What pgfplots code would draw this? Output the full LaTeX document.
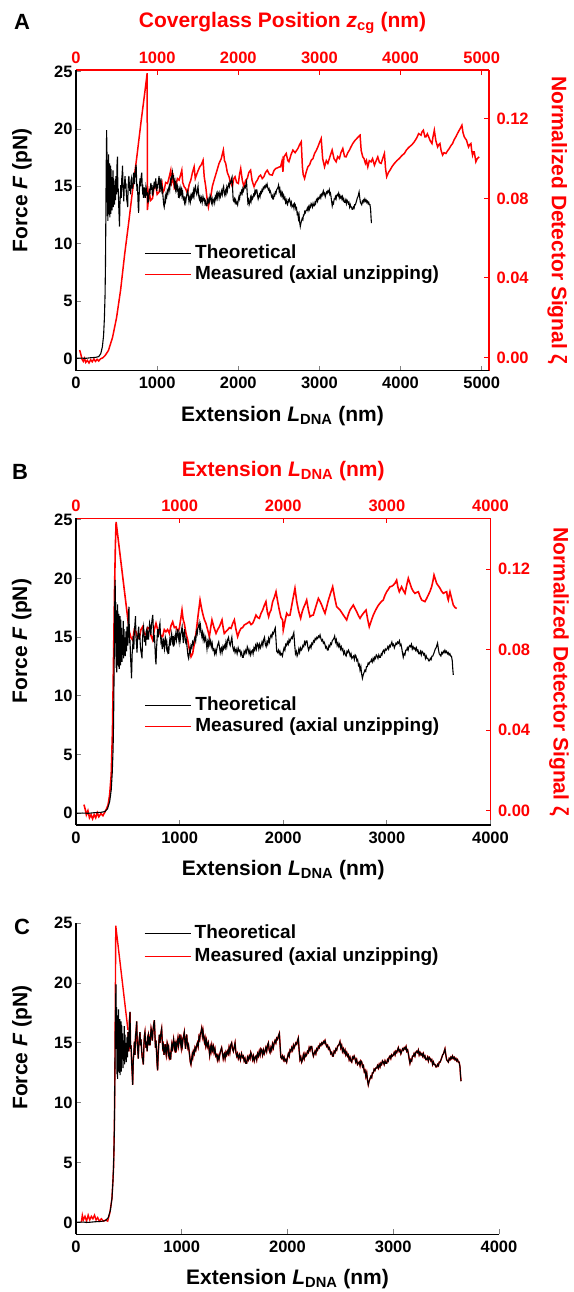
\documentclass[border=0pt]{standalone}
\usepackage{fontspec}
\setmainfont{Liberation Sans}
\usepackage{pgfplots}
\usepackage{pgfplotstable}
\pgfplotsset{compat=1.18}

\newcommand{\tickfont}{\fontsize{16.5}{18}\selectfont\bfseries}
\newcommand{\labfont}{\fontsize{21}{24}\selectfont\bfseries}
\newcommand{\legfont}{\fontsize{19}{22}\selectfont\bfseries}

% Theoretical force vs extension (nm, pN)
\pgfplotstableread{
L F
0 0.00
60 0.02
120 0.00
180 0.05
240 0.08
280 0.15
305 0.4
325 1.0
340 2.0
350 3.5
358 5.5
363 8.0
367 11.5
371 15.5
375 18.5
378 19.9
381 14.5
384 18.0
387 12.4
390 17.3
393 12.0
396 16.8
399 12.6
402 17.8
405 13.4
408 16.3
411 12.5
414 17.0
417 12.3
420 16.2
423 13.3
426 16.8
429 12.6
432 16.5
436 13.8
440 15.8
444 12.9
448 15.2
452 13.5
456 16.4
460 13.2
463 15.7
467 13.6
471 15.0
475 13.4
479 14.6
483 15.5
487 13.8
491 15.9
495 15.2
500 14.3
505 16.8
511 17.6
516 14.5
521 14.8
526 13.4
531 12.5
536 11.5
542 13.6
547 14.2
552 15.1
558 14.0
563 15.6
568 16.0
574 16.8
579 15.0
584 14.4
589 13.7
594 14.9
599 15.4
605 15.9
610 14.8
615 15.3
621 14.3
626 13.8
631 13.6
637 13.2
642 14.8
647 15.6
652 15.9
657 15.2
662 14.6
668 15.1
673 14.3
678 15.5
684 15.7
689 14.8
694 15.2
700 14.8
705 15.6
710 16.2
716 15.9
722 15.2
728 16.0
734 16.5
741 16.9
746 15.8
751 14.6
757 15.2
762 14.2
767 13.2
772 12.7
777 14.0
782 14.8
788 15.7
794 15.0
800 15.6
806 16.0
810 16.2
815 15.3
820 14.6
826 14.8
832 14.0
838 14.5
843 14.9
848 14.3
853 14.0
858 14.6
862 15.0
867 14.8
872 14.2
877 14.5
883 13.8
889 14.0
895 13.6
900 14.4
905 14.8
911 14.3
917 14.9
923 15.3
930 14.7
936 15.1
941 14.2
947 14.9
952 14.6
958 15.0
964 15.4
970 14.8
976 15.2
983 15.7
989 15.0
995 14.6
1000 15.2
1006 14.8
1012 15.3
1018 15.6
1024 15.9
1030 15.1
1036 14.5
1041 15.3
1047 15.7
1053 14.9
1058 14.6
1064 14.8
1069 14.4
1075 13.9
1081 13.4
1087 13.2
1093 13.6
1099 14.0
1104 13.8
1110 14.3
1118 14.1
1125 14.6
1133 14.4
1141 14.8
1148 15.0
1155 14.7
1163 15.5
1170 15.3
1176 15.8
1182 15.9
1188 16.2
1195 15.6
1201 16.0
1207 15.5
1214 15.1
1220 15.4
1227 14.8
1234 15.2
1242 14.7
1251 15.0
1258 14.5
1264 14.0
1271 14.6
1277 14.3
1284 14.8
1291 14.4
1299 14.7
1306 14.2
1314 14.5
1322 13.9
1330 14.0
1337 13.6
1344 13.9
1352 13.6
1359 14.0
1366 14.3
1377 14.6
1384 14.2
1392 13.7
1398 14.0
1403 14.1
1410 13.7
1418 14.2
1425 14.0
1432 14.3
1440 14.1
1447 14.6
1455 14.2
1463 14.8
1472 15.0
1480 14.5
1488 14.3
1497 14.7
1504 15.0
1512 14.2
1520 13.9
1527 14.1
1535 13.7
1545 14.0
1555 13.6
1565 14.1
1574 13.8
1582 13.9
1590 13.5
1598 13.7
1606 13.3
1614 13.3
1622 13.8
1630 13.6
1638 13.9
1646 13.7
1653 14.2
1661 14.0
1670 13.6
1678 13.9
1686 13.5
1694 13.8
1702 13.9
1709 13.6
1717 14.1
1725 13.9
1733 14.3
1741 14.0
1749 14.5
1756 14.4
1764 14.0
1772 14.4
1780 14.1
1787 14.3
1795 14.6
1803 14.3
1811 14.8
1819 15.0
1827 14.4
1835 14.2
1843 14.6
1850 14.4
1858 14.9
1866 14.6
1874 15.0
1882 15.2
1890 15.0
1898 15.4
1906 15.3
1915 15.6
1923 15.8
1930 14.8
1937 13.8
1945 13.7
1953 13.9
1961 13.6
1968 13.8
1976 13.5
1984 13.6
1992 13.4
2000 13.8
2008 14.1
2016 13.9
2024 14.4
2032 14.3
2040 14.6
2048 14.4
2056 14.8
2063 14.6
2071 14.8
2079 15.0
2087 14.9
2095 15.2
2102 15.4
2110 14.4
2118 13.6
2126 13.8
2134 13.4
2142 13.6
2150 14.0
2158 13.7
2166 14.1
2174 13.9
2181 14.0
2189 14.3
2197 14.2
2205 14.6
2213 14.4
2221 14.7
2229 14.7
2237 14.2
2245 13.9
2252 14.1
2260 14.3
2268 14.1
2276 14.5
2284 14.4
2292 14.7
2300 14.6
2308 14.9
2316 14.8
2324 15.0
2332 14.9
2340 15.1
2347 15.0
2355 15.2
2363 14.9
2371 14.7
2379 14.8
2387 14.5
2394 14.6
2402 14.4
2410 14.1
2418 14.2
2426 13.9
2433 13.9
2441 14.3
2449 14.2
2457 14.5
2465 14.4
2473 14.7
2481 14.8
2489 14.9
2496 15.1
2504 14.6
2512 14.8
2520 14.3
2528 14.5
2536 14.2
2544 14.4
2552 14.0
2560 14.2
2568 13.9
2575 14.0
2583 13.6
2591 13.8
2599 13.5
2607 13.4
2615 13.8
2622 13.7
2630 13.9
2638 13.7
2646 13.4
2654 13.6
2662 13.2
2670 13.3
2678 13.4
2686 13.1
2694 13.5
2702 13.4
2710 13.0
2718 13.1
2726 12.6
2733 12.7
2741 12.2
2749 12.5
2756 11.9
2764 11.5
2772 11.8
2780 12.0
2788 12.2
2796 12.1
2803 12.5
2811 12.5
2819 12.8
2827 12.7
2835 12.9
2843 12.9
2851 13.1
2859 12.9
2867 13.2
2875 13.0
2883 13.3
2890 13.2
2898 13.5
2906 13.4
2914 13.2
2922 13.5
2930 13.3
2938 13.3
2946 13.6
2953 13.5
2961 13.8
2969 13.9
2977 13.7
2985 14.0
2993 13.9
3001 14.0
3009 14.2
3017 14.0
3025 14.3
3033 14.2
3040 14.4
3048 14.6
3056 14.3
3064 14.4
3072 14.1
3080 14.3
3088 14.5
3096 14.4
3104 14.6
3112 14.5
3121 14.7
3128 14.3
3136 14.4
3143 14.1
3150 13.7
3158 13.3
3166 13.6
3174 13.5
3182 13.9
3190 13.9
3197 14.1
3205 13.9
3213 14.2
3221 14.3
3229 14.2
3237 14.4
3245 14.0
3253 14.2
3262 14.0
3270 14.1
3277 13.9
3285 14.1
3293 13.8
3300 13.9
3308 13.6
3316 13.6
3324 13.8
3332 13.5
3340 13.8
3348 13.7
3356 13.5
3364 13.6
3372 13.2
3380 13.4
3387 13.2
3395 13.2
3403 13.0
3411 13.0
3419 13.2
3427 13.1
3435 13.4
3443 13.4
3452 13.6
3460 13.8
3467 14.0
3475 14.1
3482 14.3
3489 14.5
3497 14.0
3505 13.6
3513 13.5
3521 13.4
3529 13.7
3537 13.6
3545 13.8
3552 13.7
3560 13.9
3568 13.7
3576 13.8
3584 13.6
3592 13.7
3600 13.5
3608 13.6
3615 13.4
3623 13.4
3631 13.0
3636 12.3
3641 11.8
}\theo

% Measured detector signal vs coverglass position (panel A)
\pgfplotstableread{
Z S
45 0.0037
60 0.0015
75 -0.0010
90 -0.0020
105 -0.0005
120 -0.0025
140 -0.0015
160 -0.0028
180 -0.0012
200 -0.0022
220 -0.0008
240 -0.0020
260 -0.0010
280 -0.0018
300 -0.0008
330 -0.0002
360 0.0010
400 0.0035
450 0.0100
500 0.0200
550 0.0340
600 0.0520
650 0.0680
700 0.0850
750 0.1010
800 0.1180
850 0.1340
877 0.1430
880 0.0741
902 0.0833
920 0.0790
943 0.0800
960 0.0850
984 0.0867
1000 0.0820
1025 0.0833
1040 0.0870
1058 0.0884
1070 0.0830
1087 0.0842
1105 0.0880
1128 0.0875
1150 0.0910
1168 0.0942
1180 0.0880
1197 0.0909
1212 0.0850
1230 0.0859
1250 0.0900
1271 0.0892
1290 0.0920
1304 0.0942
1315 0.0880
1333 0.0859
1350 0.0850
1374 0.0825
1395 0.0870
1415 0.0892
1435 0.0930
1456 0.0959
1470 0.0900
1484 0.0917
1505 0.0940
1525 0.0959
1545 0.0970
1566 0.0992
1580 0.0910
1599 0.0859
1615 0.0800
1632 0.0758
1645 0.0790
1661 0.0808
1680 0.0860
1702 0.0892
1730 0.0930
1763 0.0976
1790 0.1000
1816 0.1043
1830 0.0990
1845 0.0976
1865 0.0930
1886 0.0909
1905 0.0880
1927 0.0859
1945 0.0900
1960 0.0909
1980 0.0880
2001 0.0875
2015 0.0920
2030 0.0950
2050 0.0890
2070 0.0859
2090 0.0890
2111 0.0900
2130 0.0930
2152 0.0942
2170 0.0890
2194 0.0859
2215 0.0880
2235 0.0892
2255 0.0910
2275 0.0917
2295 0.0900
2316 0.0909
2335 0.0930
2357 0.0942
2385 0.0920
2419 0.0917
2440 0.0940
2460 0.0950
2490 0.0955
2509 0.0959
2521 0.0959
2540 0.0990
2550 0.0934
2563 0.1009
2591 0.1026
2610 0.0990
2624 0.0984
2650 0.1020
2673 0.1043
2700 0.1030
2735 0.1051
2755 0.1070
2776 0.1085
2790 0.0960
2800 0.0920
2817 0.0900
2835 0.0930
2858 0.0959
2880 0.0970
2899 0.0992
2920 0.1000
2940 0.1026
2960 0.1040
2981 0.1059
3000 0.1080
3022 0.1101
3040 0.1000
3063 0.0959
3085 0.0990
3104 0.0976
3130 0.1010
3157 0.1043
3180 0.1000
3206 0.0984
3225 0.1010
3247 0.1001
3265 0.1030
3288 0.1051
3310 0.1010
3329 0.1009
3350 0.1030
3370 0.1043
3390 0.1060
3411 0.1076
3435 0.1090
3460 0.1101
3480 0.1110
3501 0.1118
3515 0.1040
3534 0.1009
3550 0.1000
3567 0.0976
3580 0.0990
3596 0.0959
3615 0.0990
3637 0.0984
3655 0.1000
3678 0.0967
3700 0.0990
3719 0.1009
3740 0.0980
3760 0.0976
3780 0.1000
3801 0.1026
3815 0.0950
3829 0.0909
3850 0.0930
3870 0.0942
3895 0.0960
3924 0.0976
3955 0.0990
3985 0.1001
4015 0.1015
4047 0.1026
4075 0.1045
4108 0.1059
4140 0.1070
4170 0.1085
4200 0.1105
4223 0.1126
4252 0.1118
4265 0.1135
4281 0.1143
4300 0.1110
4313 0.1110
4330 0.1125
4346 0.1110
4365 0.1090
4387 0.1076
4400 0.1110
4416 0.1143
4435 0.1090
4457 0.1059
4470 0.1070
4485 0.1076
4500 0.1040
4518 0.1018
4535 0.1030
4559 0.1026
4580 0.1040
4600 0.1051
4620 0.1065
4641 0.1076
4660 0.1095
4682 0.1110
4700 0.1125
4723 0.1143
4740 0.1155
4756 0.1168
4770 0.1130
4785 0.1110
4800 0.1100
4813 0.1093
4825 0.1075
4838 0.1059
4850 0.1070
4867 0.1076
4877 0.1040
4887 0.1018
4897 0.1034
4908 0.1034
4918 0.1010
4928 0.0984
4945 0.1000
4969 0.1009
}\measA

% Measured detector signal vs DNA extension (panel B)
\pgfplotstableread{
L S
77 0.0030
90 0.0005
100 -0.0020
115 0.0000
130 -0.0035
145 -0.0020
160 -0.0040
175 -0.0020
190 -0.0035
205 -0.0010
220 -0.0030
240 -0.0015
260 -0.0025
280 -0.0005
295 0.0010
310 0.0030
325 0.0080
340 0.0180
352 0.0400
362 0.0750
372 0.1100
380 0.1320
387 0.1435
515 0.0889
531 0.0860
547 0.0848
563 0.0900
579 0.0889
595 0.0860
611 0.0857
627 0.0900
643 0.0914
659 0.0880
675 0.0873
691 0.0910
708 0.0906
724 0.0870
740 0.0848
756 0.0900
772 0.0931
788 0.0900
804 0.0889
820 0.0870
836 0.0865
852 0.0900
868 0.0889
884 0.0900
901 0.0881
917 0.0920
933 0.0939
949 0.0910
965 0.0914
981 0.0890
997 0.0906
1010 0.0950
1023 0.0997
1034 0.0950
1045 0.0931
1062 0.0880
1078 0.0848
1094 0.0800
1110 0.0765
1126 0.0782
1142 0.0830
1158 0.0881
1178 0.0970
1197 0.1047
1210 0.1010
1222 0.0981
1238 0.0950
1254 0.0931
1270 0.0900
1287 0.0865
1300 0.0910
1312 0.0948
1332 0.0910
1351 0.0881
1367 0.0900
1383 0.0914
1396 0.0930
1409 0.0948
1420 0.0910
1431 0.0881
1447 0.0890
1463 0.0898
1480 0.0910
1496 0.0906
1512 0.0930
1528 0.0948
1544 0.0900
1560 0.0865
1576 0.0890
1592 0.0906
1608 0.0910
1624 0.0923
1648 0.0930
1673 0.0939
1689 0.0925
1705 0.0931
1721 0.0950
1737 0.0972
1753 0.0960
1769 0.0956
1785 0.0980
1801 0.0997
1817 0.1020
1833 0.1039
1846 0.0990
1859 0.0964
1870 0.0985
1882 0.0997
1898 0.1039
1914 0.1060
1930 0.1088
1946 0.1040
1962 0.0997
1978 0.0960
1994 0.0948
2000 0.0898
2016 0.0940
2033 0.0981
2049 0.0970
2065 0.0972
2089 0.1040
2113 0.1105
2130 0.1040
2146 0.0997
2157 0.0975
2168 0.0956
2181 0.0985
2194 0.1006
2210 0.1025
2226 0.1047
2242 0.1000
2258 0.0964
2274 0.0970
2290 0.0972
2315 0.1015
2339 0.1055
2355 0.1040
2371 0.1022
2387 0.1000
2403 0.0981
2420 0.1015
2436 0.1047
2456 0.1080
2477 0.1113
2496 0.1060
2515 0.1014
2532 0.1005
2548 0.0997
2564 0.0985
2580 0.0972
2596 0.0960
2612 0.0948
2628 0.0975
2644 0.0997
2660 0.1010
2676 0.1022
2692 0.1005
2709 0.0989
2725 0.0970
2741 0.0956
2757 0.0970
2773 0.0981
2786 0.0990
2799 0.0997
2815 0.0950
2830 0.0914
2850 0.0945
2869 0.0972
2885 0.0990
2901 0.1006
2917 0.1020
2933 0.1031
2949 0.1040
2965 0.1047
2981 0.1070
2998 0.1088
3014 0.1100
3030 0.1113
3046 0.1115
3062 0.1121
3078 0.1130
3094 0.1146
3107 0.1110
3120 0.1088
3131 0.1100
3142 0.1113
3158 0.1095
3175 0.1080
3191 0.1120
3207 0.1155
3223 0.1130
3239 0.1105
3255 0.1090
3271 0.1080
3288 0.1085
3304 0.1088
3320 0.1065
3336 0.1047
3352 0.1043
3368 0.1039
3384 0.1055
3400 0.1072
3416 0.1090
3432 0.1113
3444 0.1140
3455 0.1171
3468 0.1150
3480 0.1130
3496 0.1118
3513 0.1105
3529 0.1090
3545 0.1080
3561 0.1085
3577 0.1088
3585 0.1060
3593 0.1047
3601 0.1070
3609 0.1088
3625 0.1055
3641 0.1022
3657 0.1010
3674 0.1005
}\measB

% Measured force (panel C), start and peak; afterwards it follows the theoretical curve
\pgfplotstableread{
L F
50 0.0
60 0.6
70 0.2
85 0.5
100 0.1
115 0.6
130 0.2
145 0.5
160 0.3
175 0.6
190 0.2
205 0.4
220 0.1
240 0.3
260 0.1
280 0.2
300 0.1
320 0.8
340 2.0
355 4.5
363 8.0
368 13.0
373 20.0
376 24.8
491 16.1
}\measC

\pgfplotsset{
  base/.style={
    scale only axis, anchor=south west,
    /pgf/number format/assume math mode=true,
    /pgf/number format/1000 sep={},
    scaled ticks=false,
    tick label style={font=\tickfont},
    label style={font=\labfont},
    major tick length=5pt,
    tick style={line width=1pt},
    tick align=inside,
  },
  blackax/.style={
    base,
    axis x line*=bottom, axis y line*=left,
    axis line style={line width=1.1pt, black},
    xticklabel shift=3pt,
    ytick={0,5,...,25},
    xlabel={Extension \textit{L}\textsubscript{DNA} (nm)},
    ylabel={Force \textit{F} (pN)},
    xlabel style={at={(axis description cs:0.5,0)}, anchor=center, yshift=-45pt},
  },
  redax/.style={
    base,
    axis x line*=top, axis y line*=right,
    axis line style={line width=1.1pt, red},
    tick style={line width=1pt, red},
    tick label style={red},
    label style={red},
    xticklabel shift=3pt,
    yticklabel shift=4pt,
    ytick={0,0.04,0.08,0.12},
    yticklabel style={/pgf/number format/.cd, fixed, fixed zerofill, precision=2},
    ylabel={Normalized Detector Signal ζ},
    ylabel style={at={(axis description cs:1.165,0.5)}, anchor=center, rotate=180},
    xlabel style={at={(axis description cs:0.5,1)}, anchor=center, yshift=47pt},
  },
  legsty/.style={
    legend style={draw=none, fill=none, font=\legfont, inner sep=0pt,
      row sep=0pt, column sep=2pt,
      nodes={inner sep=1.5pt, text height=14pt, text depth=4pt}},
    legend cell align=left,
    legend image code/.code={\draw[##1] (0pt,0pt) -- (46pt,0pt);},
  },
}

\begin{document}
\begin{tikzpicture}
\useasboundingbox (0pt,0pt) rectangle (573pt,-1292pt);

% ---------------- Panel A ----------------
\begin{axis}[redax, at={(76pt,-370.7pt)}, width=413pt, height=300.7pt,
  xmin=0, xmax=5090, ymin=-0.0067, ymax=0.1446,
  xtick={0,1000,...,5000},
  xlabel={Coverglass Position \textit{z}\textsubscript{cg} (nm)}]
\addplot[red, line width=1.5pt] table[x=Z, y=S] {\measA};
\end{axis}
\begin{axis}[blackax, legsty, at={(76pt,-370.7pt)}, width=413pt, height=300.7pt,
  xmin=0, xmax=5090, ymin=-1.08, ymax=25.15,
  xtick={0,1000,...,5000},
  ylabel style={at={(axis description cs:-0.131,0.6)}, anchor=center},
  legend style={at={(axis description cs:0.165,0.425)}, anchor=north west}]
\addplot[black, line width=1.1pt] table[x=L, y=F] {\theo};
\addlegendentry{Theoretical}
\addlegendimage{red, line width=1.3pt}
\addlegendentry{Measured (axial unzipping)}
\end{axis}
\node[font=\fontsize{22}{24}\selectfont\bfseries] at (22pt,-22pt) {A};

% ---------------- Panel B ----------------
\begin{axis}[redax, at={(76pt,-825pt)}, width=414.5pt, height=306.7pt,
  xmin=0, xmax=4000, ymin=-0.0071, ymax=0.1453,
  xtick={0,1000,...,4000},
  xlabel={Extension \textit{L}\textsubscript{DNA} (nm)}]
\addplot[red, line width=1.6pt] table[x=L, y=S] {\measB};
\end{axis}
\begin{axis}[blackax, legsty, at={(76pt,-825pt)}, width=414.5pt, height=306.7pt,
  xmin=0, xmax=4000, ymin=-1.0, ymax=25.14,
  xtick={0,1000,...,4000},
  ylabel style={at={(axis description cs:-0.131,0.6)}, anchor=center},
  legend style={at={(axis description cs:0.165,0.425)}, anchor=north west}]
\addplot[black, line width=1.1pt] table[x=L, y=F] {\theo};
\addlegendentry{Theoretical}
\addlegendimage{red, line width=1.3pt}
\addlegendentry{Measured (axial unzipping)}
\end{axis}
\node[font=\fontsize{22}{24}\selectfont\bfseries] at (20pt,-472pt) {B};

% ---------------- Panel C ----------------
\begin{axis}[blackax, legsty, at={(76pt,-1234.3pt)}, width=423pt, height=311pt,
  xmin=0, xmax=4000, ymin=-1.0, ymax=25,
  xtick={0,1000,...,4000},
  ylabel style={at={(axis description cs:-0.128,0.6)}, anchor=center},
  legend style={at={(axis description cs:0.16,1.005)}, anchor=north west,
    nodes={inner sep=1.5pt, text height=15pt, text depth=5pt}}]
\addplot[red, line width=1.4pt, forget plot] table[x=L, y=F] {\measC};
\addplot[red, line width=1.4pt, forget plot, restrict x to domain=491:4000] table[x=L, y=F] {\theo};
\addplot[black, line width=1.1pt] table[x=L, y=F] {\theo};
\addlegendentry{Theoretical}
\addlegendimage{red, line width=1.3pt}
\addlegendentry{Measured (axial unzipping)}
\end{axis}
\node[font=\fontsize{22}{24}\selectfont\bfseries] at (22pt,-927pt) {C};
\end{tikzpicture}
\end{document}
